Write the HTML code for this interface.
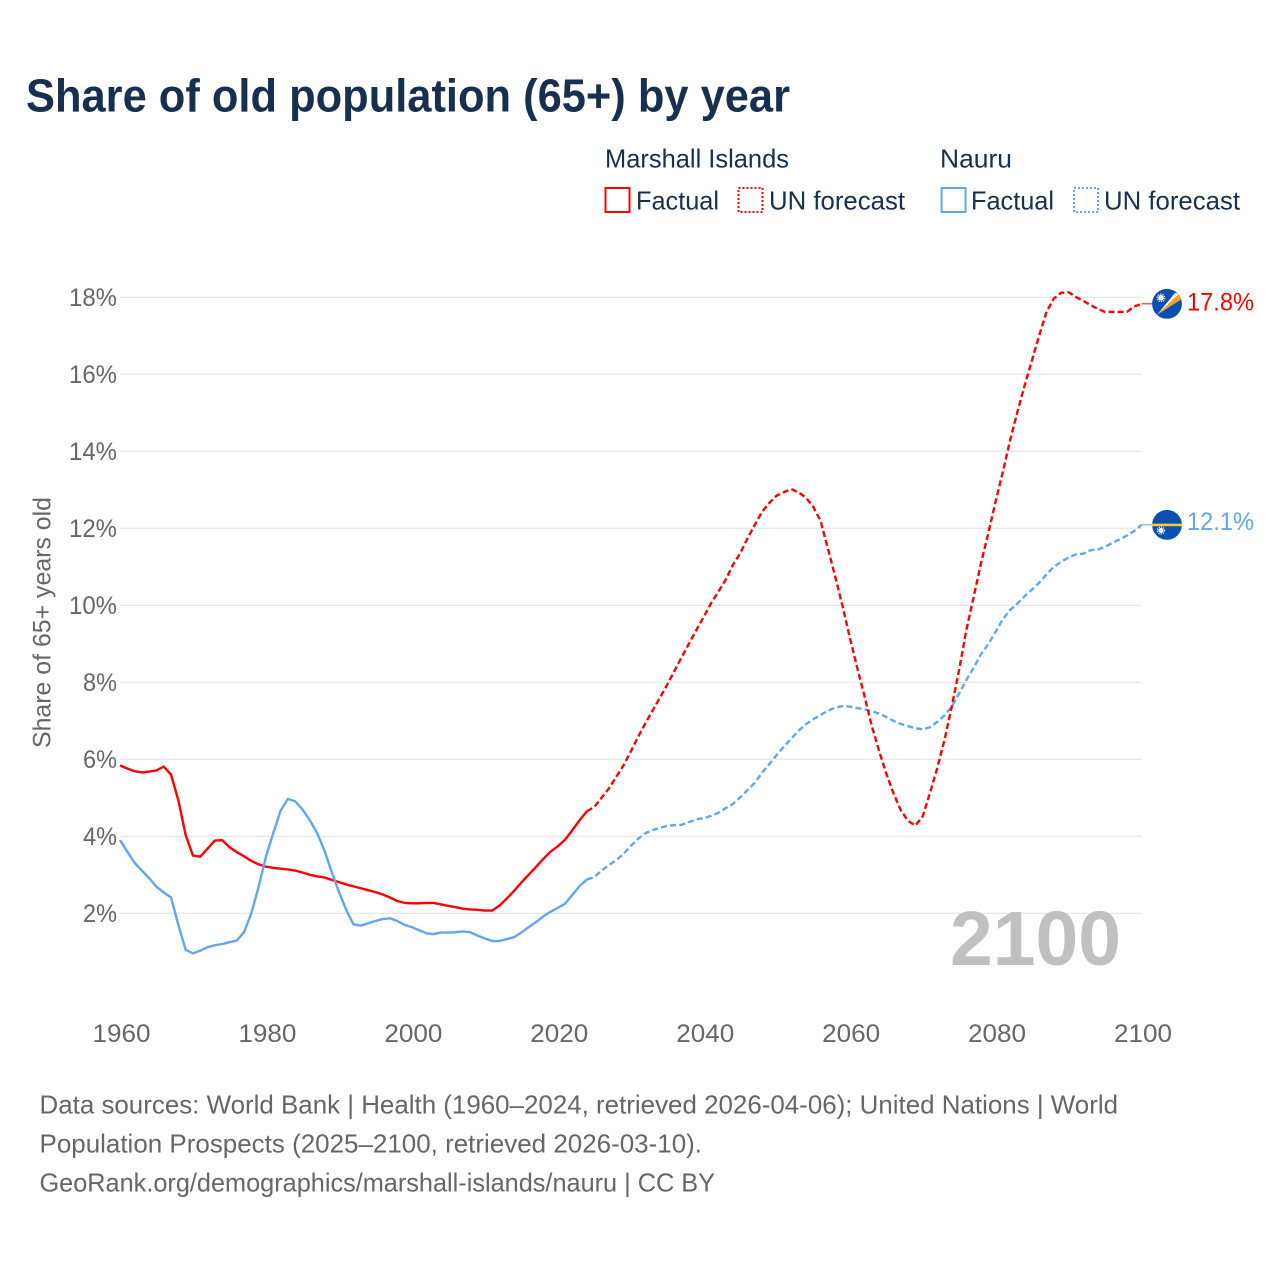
<!DOCTYPE html>
<html lang="en">
<head>
<meta charset="utf-8">
<title>Share of old population (65+) by year</title>
<style>
  html, body { margin: 0; padding: 0; background: #fff; }
  svg { display: block; font-family: "Liberation Sans", sans-serif; }
</style>
</head>
<body>
<svg id="chart" xmlns="http://www.w3.org/2000/svg" width="1280" height="1280" viewBox="0 0 1280 1280">
  <rect x="0" y="0" width="1280" height="1280" fill="#ffffff"/>

  <text x="26" y="111.5" font-size="46" font-weight="700" fill="#18304f" textLength="764" lengthAdjust="spacingAndGlyphs">Share of old population (65+) by year</text>

  <g font-size="26" fill="#18304f">
    <text x="605" y="167.5" textLength="184" lengthAdjust="spacingAndGlyphs">Marshall Islands</text>
    <text x="940" y="167.5" textLength="72" lengthAdjust="spacingAndGlyphs">Nauru</text>

    <rect x="605.5" y="188" width="24" height="24" fill="none" stroke="#ff0000" stroke-width="2"/>
    <text x="636" y="209.5" textLength="83" lengthAdjust="spacingAndGlyphs">Factual</text>
    <rect x="738.5" y="188" width="24" height="24" fill="none" stroke="#ff0000" stroke-width="2" stroke-dasharray="2 2"/>
    <text x="769" y="209.5" textLength="136" lengthAdjust="spacingAndGlyphs">UN forecast</text>

    <rect x="941.5" y="188" width="24" height="24" fill="none" stroke="#62a6ec" stroke-width="2"/>
    <text x="971" y="209.5" textLength="83" lengthAdjust="spacingAndGlyphs">Factual</text>
    <rect x="1074" y="188" width="24" height="24" fill="none" stroke="#62a6ec" stroke-width="2" stroke-dasharray="2 2"/>
    <text x="1104" y="209.5" textLength="136" lengthAdjust="spacingAndGlyphs">UN forecast</text>
  </g>

  <text transform="translate(50.5 748) rotate(-90)" x="0" y="0" font-size="25" fill="#666666" textLength="251" lengthAdjust="spacingAndGlyphs">Share of 65+ years old</text>

  <g id="grid"></g>
  <g id="y-ticks" font-size="25" fill="#666666" text-anchor="end"></g>
  <g id="x-ticks" font-size="25" fill="#666666" text-anchor="middle"></g>

  <text x="950" y="965" font-size="77" font-weight="700" fill="#c0c0c0" textLength="171" lengthAdjust="spacingAndGlyphs">2100</text>

  <g id="series" fill="none" stroke-width="2.4" stroke-linejoin="round"></g>

  <defs>
    <clipPath id="flag-clip"><circle cx="0" cy="0" r="15"/></clipPath>
  </defs>

  <g id="flag-marshall" clip-path="url(#flag-clip)">
    <circle cx="0" cy="0" r="15" fill="#0b4fb2"/>
    <polygon points="-10,11 8,-11 12,-10" fill="#ffffff"/>
    <polygon points="-10,11 12,-10 15,-5" fill="#f7a11e"/>
    <circle cx="-6" cy="-6" r="2.8" fill="#ffffff"/>
    <circle cx="-6" cy="-6" r="3.8" fill="none" stroke="#ffffff" stroke-width="1.2" stroke-dasharray="1.2 1.2"/>
  </g>
  <g id="flag-nauru" clip-path="url(#flag-clip)">
    <circle cx="0" cy="0" r="15" fill="#0b4fb2"/>
    <rect x="-15" y="-1.2" width="30" height="2.6" fill="#ffc72c"/>
    <circle cx="-6" cy="5.6" r="2.6" fill="#ffffff"/>
    <circle cx="-6" cy="5.6" r="3.6" fill="none" stroke="#ffffff" stroke-width="1.2" stroke-dasharray="1.2 1.2"/>
  </g>

  <text id="value-marshall" x="1187" font-size="25" fill="#ff0000" textLength="67" lengthAdjust="spacingAndGlyphs"></text>
  <text id="value-nauru" x="1187" font-size="25" fill="#62a6ec" textLength="67" lengthAdjust="spacingAndGlyphs"></text>

  <g font-size="26" fill="#666666">
    <text x="39.5" y="1113.5" textLength="1078.5" lengthAdjust="spacingAndGlyphs">Data sources: World Bank | Health (1960–2024, retrieved 2026-04-06); United Nations | World</text>
    <text x="39.5" y="1152.5" textLength="662.5" lengthAdjust="spacingAndGlyphs">Population Prospects (2025–2100, retrieved 2026-03-10).</text>
    <text x="39.5" y="1191.5" textLength="675.5" lengthAdjust="spacingAndGlyphs">GeoRank.org/demographics/marshall-islands/nauru | CC BY</text>
  </g>
</svg>

<script>
const factualStartYear = 1960;
const yTickValues = [2, 4, 6, 8, 10, 12, 14, 16, 18];
const yTickLabels = ["2%", "4%", "6%", "8%", "10%", "12%", "14%", "16%", "18%"];
const xTickYears = [1960, 1980, 2000, 2020, 2040, 2060, 2080, 2100];
const xTickLabels = ["1960", "1980", "2000", "2020", "2040", "2060", "2080", "2100"];

const marshallFactual = [
  5.84, 5.76, 5.69, 5.66, 5.68, 5.71, 5.81, 5.60, 4.93, 4.03,
  3.50, 3.47, 3.68, 3.89, 3.90, 3.72, 3.59, 3.48, 3.36, 3.27,
  3.21, 3.18, 3.16, 3.14, 3.11, 3.06, 3.00, 2.96, 2.93, 2.87,
  2.81, 2.75, 2.70, 2.65, 2.60, 2.55, 2.49, 2.41, 2.32, 2.27,
  2.26, 2.26, 2.27, 2.27, 2.23, 2.19, 2.16, 2.12, 2.10, 2.09,
  2.07, 2.07, 2.20, 2.38, 2.58, 2.80, 3.00, 3.20, 3.41, 3.60,
  3.74, 3.91, 4.16, 4.42, 4.65
];
const marshallForecast = [
  4.76, 5.00, 5.24, 5.54, 5.84,
  6.20, 6.58, 6.93, 7.27, 7.60, 7.94, 8.30, 8.66, 9.01, 9.36,
  9.70, 10.05, 10.35, 10.66, 11.05, 11.35, 11.74, 12.09, 12.43, 12.66,
  12.85, 12.94, 13.02, 12.93, 12.80, 12.56, 12.20, 11.49, 10.76, 10.00,
  9.18, 8.41, 7.67, 6.89, 6.24, 5.64, 5.12, 4.68, 4.40, 4.28,
  4.51, 5.12, 5.77, 6.50, 7.37, 8.32, 9.36, 10.22, 11.09, 11.87,
  12.69, 13.47, 14.29, 15.03, 15.72, 16.37, 17.02, 17.63, 17.97, 18.12,
  18.13, 18.01, 17.91, 17.80, 17.70, 17.62, 17.62, 17.62, 17.62, 17.76, 17.83
];
const nauruFactual = [
  3.90, 3.60, 3.31, 3.11, 2.91, 2.69, 2.54, 2.41, 1.70, 1.05,
  0.96, 1.03, 1.12, 1.17, 1.20, 1.25, 1.29, 1.51, 2.00, 2.69,
  3.47, 4.08, 4.66, 4.97, 4.91, 4.70, 4.42, 4.09, 3.64, 3.08,
  2.56, 2.09, 1.71, 1.68, 1.74, 1.80, 1.85, 1.87, 1.80, 1.70,
  1.64, 1.56, 1.48, 1.46, 1.50, 1.50, 1.51, 1.53, 1.51, 1.42,
  1.35, 1.28, 1.28, 1.33, 1.38, 1.50, 1.64, 1.77, 1.92, 2.04,
  2.14, 2.25, 2.48, 2.71, 2.88
];
const nauruForecast = [
  2.94, 3.11, 3.25, 3.38, 3.54,
  3.75, 3.93, 4.08, 4.16, 4.22, 4.27, 4.29, 4.30, 4.37, 4.44,
  4.47, 4.53, 4.61, 4.73, 4.84, 5.01, 5.20, 5.39, 5.65, 5.88,
  6.11, 6.33, 6.54, 6.74, 6.91, 7.04, 7.15, 7.26, 7.34, 7.38,
  7.37, 7.33, 7.30, 7.25, 7.19, 7.10, 7.00, 6.92, 6.86, 6.81,
  6.78, 6.83, 6.97, 7.14, 7.37, 7.71, 8.06, 8.38, 8.73, 8.99,
  9.31, 9.64, 9.88, 10.05, 10.24, 10.41, 10.59, 10.81, 11.00, 11.13,
  11.24, 11.32, 11.34, 11.43, 11.45, 11.52, 11.62, 11.71, 11.81, 11.93, 12.09
];

const NS = "http://www.w3.org/2000/svg";
const RED = "#ff0000";
const BLUE = "#62a6ec";

function xScale(year) {
  return 120 + (year - 1960) * (1021.5 / 140);
}
function yScale(value) {
  return 990.3 - value * 38.5;
}
function pathFrom(values, startYear) {
  return values.map(function (v, i) {
    return (i === 0 ? "M" : "L") + xScale(startYear + i).toFixed(2) + " " + yScale(v).toFixed(2);
  }).join("");
}

const gridGroup = document.getElementById("grid");
const yTickGroup = document.getElementById("y-ticks");
const xTickGroup = document.getElementById("x-ticks");
const seriesGroup = document.getElementById("series");

yTickValues.forEach(function (v, i) {
  const line = document.createElementNS(NS, "line");
  
  
  line.setAttribute("x1", xScale(1960));
  line.setAttribute("x2", xScale(2100));
  line.setAttribute("y1", yScale(v));
  line.setAttribute("y2", yScale(v));
  line.setAttribute("stroke", "#e8e8e8");
  line.setAttribute("stroke-width", "1.3");
  gridGroup.appendChild(line);

  const label = document.createElementNS(NS, "text");
  
  
  label.setAttribute("x", "117");
  label.setAttribute("y", yScale(v) + 8.5);
  label.setAttribute("textLength", yTickLabels[i].length === 2 ? "34" : "48");
  label.setAttribute("lengthAdjust", "spacingAndGlyphs");
  label.textContent = yTickLabels[i];
  yTickGroup.appendChild(label);
});

xTickYears.forEach(function (year, i) {
  const label = document.createElementNS(NS, "text");
  
  
  label.setAttribute("x", xScale(year) + 1.5);
  label.setAttribute("y", "1042");
  label.setAttribute("textLength", "58");
  label.setAttribute("lengthAdjust", "spacingAndGlyphs");
  label.textContent = xTickLabels[i];
  xTickGroup.appendChild(label);
});

const lastFactualYear = factualStartYear + marshallFactual.length - 1;

function addSolid(values, color, name) {
  const p = document.createElementNS(NS, "path");
  
  
  p.setAttribute("d", pathFrom(values, factualStartYear));
  p.setAttribute("stroke", color);
  seriesGroup.appendChild(p);
}
function addDashed(factual, forecast, color, name) {
  const joined = [factual[factual.length - 1]].concat(forecast);
  const p = document.createElementNS(NS, "path");
  
  
  p.setAttribute("d", pathFrom(joined, lastFactualYear));
  p.setAttribute("stroke", color);
  p.setAttribute("stroke-dasharray", "6 3.2");
  seriesGroup.appendChild(p);
}
function addConnector(forecast, color, name) {
  const y = yScale(forecast[forecast.length - 1]);
  const line = document.createElementNS(NS, "line");
  
  
  line.setAttribute("x1", xScale(2100));
  line.setAttribute("x2", xScale(2100) + 11);
  line.setAttribute("y1", y);
  line.setAttribute("y2", y);
  line.setAttribute("stroke", color);
  line.setAttribute("stroke-width", "1");
  seriesGroup.appendChild(line);
}

addSolid(marshallFactual, RED, "marshall-islands-factual-line");
addSolid(nauruFactual, BLUE, "nauru-factual-line");
addDashed(nauruFactual, nauruForecast, BLUE, "nauru-forecast-line");
addDashed(marshallFactual, marshallForecast, RED, "marshall-islands-forecast-line");
addConnector(nauruForecast, BLUE, "nauru-end-connector");
addConnector(marshallForecast, RED, "marshall-islands-end-connector");

function placeEnd(forecast, flagId, valueId, labelOffset) {
  const last = forecast[forecast.length - 1];
  const y = yScale(last);
  document.getElementById(flagId).setAttribute("transform", "translate(" + (xScale(2100) + 25.5) + " " + y + ")");
  const t = document.getElementById(valueId);
  t.setAttribute("y", y + labelOffset);
  t.textContent = last.toFixed(1) + "%";
}
placeEnd(marshallForecast, "flag-marshall", "value-marshall", 6.8);
placeEnd(nauruForecast, "flag-nauru", "value-nauru", 5.4);
</script>
</body>
</html>
